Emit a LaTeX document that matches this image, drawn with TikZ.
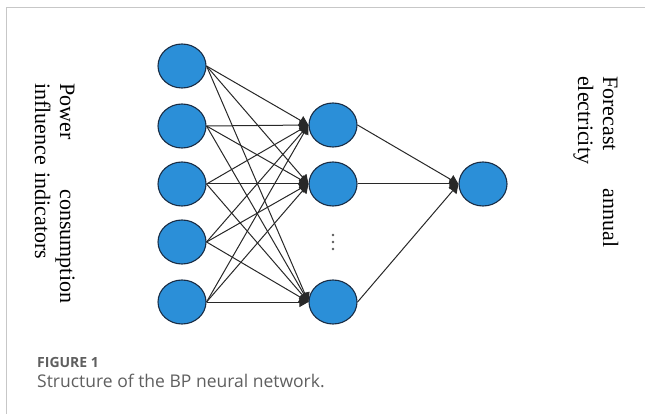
\documentclass[tikz,border=0pt]{standalone}
\usepackage{fontspec}
\setmainfont{Liberation Serif}
\newfontfamily\capfont{Open Sans}
\usetikzlibrary{arrows.meta,shapes.geometric,positioning}
\definecolor{neurone}{RGB}{43,143,216}
\definecolor{bord}{RGB}{25,45,70}
\definecolor{trait}{RGB}{40,40,40}
\definecolor{legende}{RGB}{95,95,95}
\begin{document}
\begin{tikzpicture}[
    x=1pt, y=-1pt,  % une unité = un pixel, vers le bas
    % neurones : ellipses bleues
    neur/.style={ellipse, draw=bord, line width=1.1pt, fill=neurone,
        minimum width=48pt, minimum height=44pt, inner sep=0pt},
    % liaisons avec une pointe noire
    lien/.style={draw=trait, line width=1pt, -{Triangle[length=9pt,width=10pt]}},
    % textes verticaux
    etiq/.style={rotate=-90, anchor=base west, inner sep=0pt, align=left,
        font=\fontsize{22}{25}\selectfont}
]
\useasboundingbox (0,0) rectangle (645,414);
% cadre
\draw[black!22, line width=1.2pt] (6.5,414) -- (6.5,7.5) -- (645,7.5);
% Couche d'entrée
\node[neur] (e1) at (182,66) {};
\node[neur] (e2) at (182,126) {};
\node[neur] (e3) at (182,184) {};
\node[neur] (e4) at (182,242) {};
\node[neur] (e5) at (182,302) {};
% Couche cachée
\node[neur] (c1) at (333,125) {};
\node[neur] (c2) at (333,184) {};
\node[neur] (c3) at (333,302) {};
\coordinate (dots) at (333,242);
\foreach \d in {-7,0,7}
    \fill[black!65] ([yshift=\d pt]dots) circle (1.4);
% Sortie
\node[neur] (s) at (483,184) {};
% Liaisons
\foreach \i in {1,...,5}
    \foreach \j in {1,2,3}
        \draw[lien] (e\i.east) -- (c\j.west);
\foreach \j in {1,2,3}
    \draw[lien] (c\j.east) -- (s.west);
% Textes
\node[etiq, text width=220pt] (entree) at (60,83)
    {Power\hfill consumption\\influence indicators};
\node[etiq, text width=171pt] (sortie) at (603,76)
    {Forecast\hfill annual\\electricity};
% Légende
\node[anchor=base west, inner sep=0pt, text=legende,
    font=\capfont\bfseries\fontsize{14}{16}\selectfont] (fig) at (37,367) {FIGURE 1};
\node[anchor=base west, inner sep=0pt, text=legende,
    font=\capfont\fontsize{17.5}{20}\selectfont] (titre) at (37,387)
    {Structure of the BP neural network.};
\end{tikzpicture}
\end{document}
